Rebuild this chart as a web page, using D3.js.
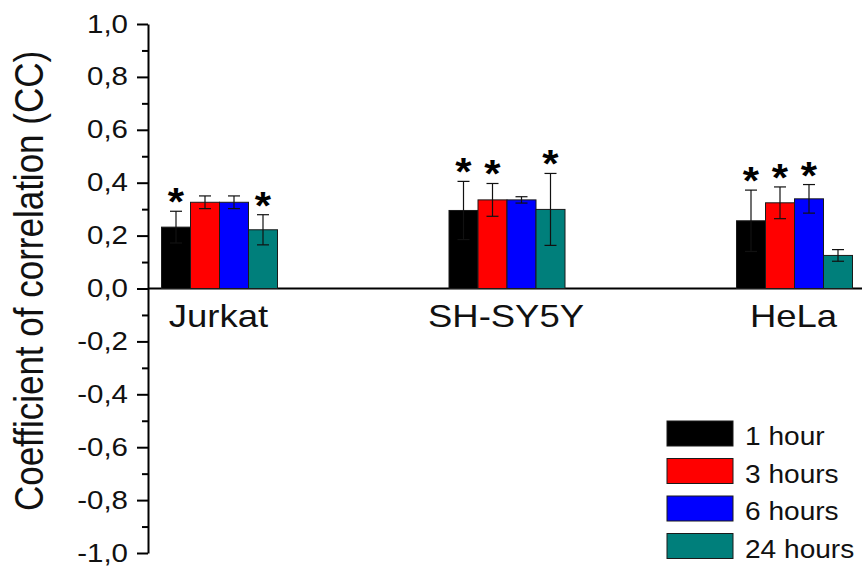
<!DOCTYPE html>
<html>
<head>
<meta charset="utf-8">
<script src="https://cdn.jsdelivr.net/npm/d3@7"></script>
<style>
  html, body { margin: 0; padding: 0; background: #fff; }
  svg { display: block; }
</style>
</head>
<body>
<div id="chart"></div>
<script>
// data
const categories = ['Jurkat', 'SH-SY5Y', 'HeLa'];
const seriesNames = ['1 hour', '3 hours', '6 hours', '24 hours'];
const seriesColors = ['#000000', '#ff0000', '#0000ff', '#007f7b'];

const hour1 = [0.232, 0.295, 0.256];
const hour3 = [0.326, 0.335, 0.324];
const hour6 = [0.326, 0.335, 0.339];
const hour24 = [0.222, 0.299, 0.125];

const hour1Err = [0.060, 0.110, 0.116];
const hour3Err = [0.024, 0.062, 0.060];
const hour6Err = [0.024, 0.012, 0.054];
const hour24Err = [0.057, 0.136, 0.022];

// significance marks (1 = star)
const hour1Star = [1, 1, 1];
const hour3Star = [0, 1, 1];
const hour6Star = [0, 0, 1];
const hour24Star = [1, 1, 0];

const yTicks = [-1.0, -0.8, -0.6, -0.4, -0.2, 0.0, 0.2, 0.4, 0.6, 0.8, 1.0];
const yMinorTicks = [-0.9, -0.7, -0.5, -0.3, -0.1, 0.1, 0.3, 0.5, 0.7, 0.9];
const yTitle = 'Coefficient of correlation (CC)';

const option = {
  width: 862,
  height: 568,
  font: '"Liberation Sans", Arial, sans-serif',
  stretch: 1.18
};

const values = [hour1, hour3, hour6, hour24];
const errors = [hour1Err, hour3Err, hour6Err, hour24Err];
const stars = [hour1Star, hour3Star, hour6Star, hour24Star];

const rows = [];
seriesNames.forEach((s, si) => {
  categories.forEach((c, ci) => {
    rows.push({
      category: c,
      series: s,
      color: seriesColors[si],
      value: values[si][ci],
      err: errors[si][ci],
      star: stars[si][ci]
    });
  });
});

const svg = d3.select('#chart')
    .append('svg')
    .attr('width', option.width)
    .attr('height', option.height);

const y = d3.scaleLinear()
    .domain([-1, 1])
    .range([553, 24]);

const x = d3.scalePoint()
    .domain(categories)
    .range([219.5, 794.5]);

const xInner = d3.scaleBand()
    .domain(seriesNames)
    .range([-58, 58])
    .padding(0);

const locale = d3.formatLocale({
  decimal: ',',
  thousands: '.',
  grouping: [3],
  currency: ['', ''],
  minus: '-'
});
const fmt = locale.format('.1f');

// stretched text, like the original export
const stretchText = (sel, k = option.stretch) => {
  sel.each(function() {
    const t = d3.select(this);
    const tx = +t.attr('x') || 0;
    const ty = +t.attr('y') || 0;
    t.attr('x', 0).attr('y', 0)
        .attr('transform', `translate(${tx},${ty}) scale(${k},1)`);
  });
};

// x axis line at zero
svg.append('line')
    .attr('x1', 148)
    .attr('x2', option.width)
    .attr('y1', y(0))
    .attr('y2', y(0))
    .attr('stroke', '#000')
    .attr('stroke-width', 2);

// bars
svg.append('g')
    .selectAll('rect')
    .data(rows)
    .join('rect')
    .attr('x', (d) => x(d.category) + xInner(d.series))
    .attr('y', (d) => y(d.value))
    .attr('width', xInner.bandwidth())
    .attr('height', (d) => y(0) - y(d.value))
    .attr('fill', (d) => d.color)
    .attr('stroke', '#1a1a1a')
    .attr('stroke-width', 1);

// error bars
const errG = svg.append('g')
    .attr('stroke', '#111')
    .attr('stroke-width', 1.2);

const cx = (d) => x(d.category) + xInner(d.series) + xInner.bandwidth() / 2;

errG.selectAll('line.v')
    .data(rows)
    .join('line')
    .attr('class', 'v')
    .attr('x1', cx)
    .attr('x2', cx)
    .attr('y1', (d) => y(d.value + d.err))
    .attr('y2', (d) => y(d.value - d.err));

errG.selectAll('line.top')
    .data(rows)
    .join('line')
    .attr('class', 'top')
    .attr('x1', (d) => cx(d) - 6)
    .attr('x2', (d) => cx(d) + 6)
    .attr('y1', (d) => y(d.value + d.err))
    .attr('y2', (d) => y(d.value + d.err));

errG.selectAll('line.bot')
    .data(rows)
    .join('line')
    .attr('class', 'bot')
    .attr('x1', (d) => cx(d) - 6)
    .attr('x2', (d) => cx(d) + 6)
    .attr('y1', (d) => y(d.value - d.err))
    .attr('y2', (d) => y(d.value - d.err));

// stars
svg.append('g')
    .selectAll('text')
    .data(rows.filter((d) => d.star))
    .join('text')
    .attr('x', cx)
    .attr('y', (d) => y(d.value + d.err) + 4)
    .attr('text-anchor', 'middle')
    .attr('font-family', option.font)
    .attr('font-weight', 'bold')
    .attr('font-size', 38)
    .text('*')
    .call(stretchText, 1.1);

// y axis
const yAxis = d3.axisLeft(y)
    .tickValues(yTicks)
    .tickFormat(fmt)
    .tickSize(11)
    .tickSizeOuter(0)
    .tickPadding(9);

const yAxisG = svg.append('g')
    .attr('transform', 'translate(148,0)')
    .call(yAxis);

yAxisG.select('.domain')
    .attr('stroke-width', 2);
yAxisG.selectAll('.tick line')
    .attr('stroke-width', 2);
yAxisG.selectAll('.tick text')
    .attr('font-family', option.font)
    .attr('font-size', 25)
    .attr('fill', '#111')
    .call(stretchText);

const yMinor = d3.axisLeft(y)
    .tickValues(yMinorTicks)
    .tickFormat('')
    .tickSize(6)
    .tickSizeOuter(0);

const yMinorG = svg.append('g')
    .attr('transform', 'translate(148,0)')
    .call(yMinor);
yMinorG.select('.domain').remove();
yMinorG.selectAll('.tick line')
    .attr('stroke-width', 2);

// category labels
svg.append('g')
    .selectAll('text')
    .data(categories)
    .join('text')
    .attr('x', (d) => x(d) - 1)
    .attr('y', 327)
    .attr('text-anchor', 'middle')
    .attr('font-family', option.font)
    .attr('font-size', 32)
    .attr('fill', '#111')
    .text((d) => d)
    .call(stretchText, 1.14);

// y title
svg.append('text')
    .attr('transform', `translate(43,281) scale(${option.stretch},1) rotate(-90)`)
    .attr('text-anchor', 'middle')
    .attr('font-family', option.font)
    .attr('font-size', 35)
    .attr('fill', '#111')
    .text(yTitle);

// legend
const legend = svg.append('g')
    .attr('transform', 'translate(667,421)')
    .selectAll('g')
    .data(seriesNames)
    .join('g')
    .attr('transform', (d, i) => `translate(0,${i * 37.5})`);

legend.append('rect')
    .attr('width', 66)
    .attr('height', 25)
    .attr('fill', (d, i) => seriesColors[i])
    .attr('stroke', '#1a1a1a')
    .attr('stroke-width', 1);

legend.append('text')
    .attr('x', 78)
    .attr('y', 24)
    .attr('font-family', option.font)
    .attr('font-size', 26)
    .attr('fill', '#111')
    .text((d) => d)
    .call(stretchText, 1.08);
</script>
</body>
</html>
